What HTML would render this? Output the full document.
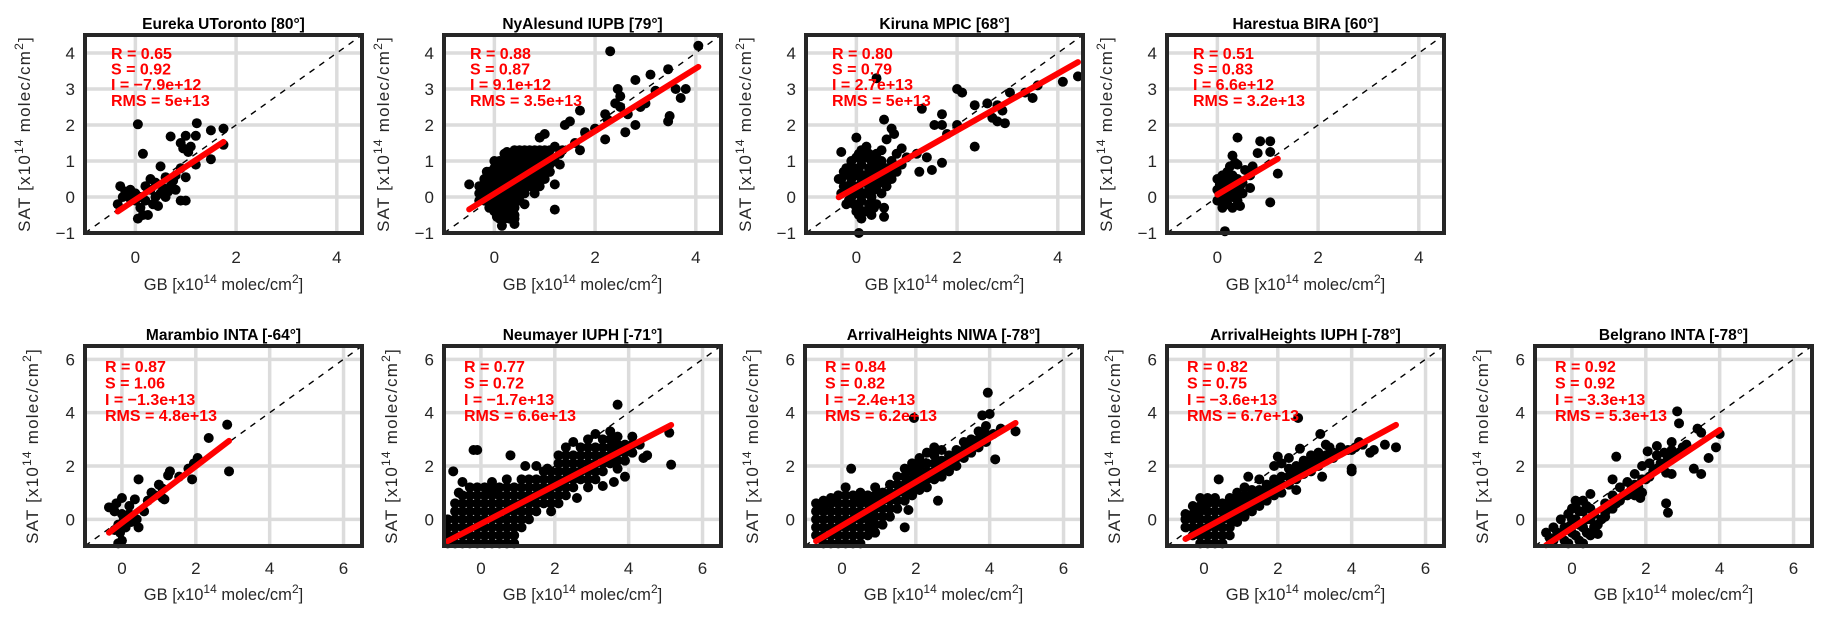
<!DOCTYPE html>
<html><head><meta charset="utf-8"><style>
html,body{margin:0;padding:0;background:#fff;}
svg{display:block;font-family:"Liberation Sans",sans-serif;}
</style></head><body>
<svg id="fig" width="1832" height="622" viewBox="0 0 1832 622" xmlns="http://www.w3.org/2000/svg"></svg>
<script>
// ---- data ----
const titles = ["Eureka UToronto [80°]","NyAlesund IUPB [79°]","Kiruna MPIC [68°]","Harestua BIRA [60°]","Marambio INTA [-64°]","Neumayer IUPH [-71°]","ArrivalHeights NIWA [-78°]","ArrivalHeights IUPH [-78°]","Belgrano INTA [-78°]"];
const statR = ["0.65","0.88","0.80","0.51","0.87","0.77","0.84","0.82","0.92"];
const statS = [0.92,0.87,0.79,0.83,1.06,0.72,0.82,0.75,0.92];
const statI = [-7.9e12,9.1e12,2.7e13,6.6e12,-1.3e13,-1.7e13,-2.4e13,-3.6e13,-3.3e13];
const statILabel = ["-7.9e+12","9.1e+12","2.7e+13","6.6e+12","-1.3e+13","-1.7e+13","-2.4e+13","-3.6e+13","-3.3e+13"];
const statRMS = ["5e+13","3.5e+13","5e+13","3.2e+13","4.8e+13","6.6e+13","6.2e+13","6.7e+13","5.3e+13"];
const topXTicks = [0,2,4];
const topYTicks = [-1,0,1,2,3,4];
const botXTicks = [0,2,4,6];
const botYTicks = [0,2,4,6];

const ptsEureka = [[0.05,2.02],[1.22,2.05],[1.5,1.85],[1.75,1.9],[0.15,1.2],[0.7,1.68],[1.0,1.7],[1.2,1.7],[0.9,1.5],[0.95,1.35],[1.05,1.25],[1.1,1.4],[1.75,1.45],[1.5,1.05],[1.2,0.9],[0.5,0.85],[0.9,0.8],[1.0,0.55],[0.8,0.6],[0.6,0.55],[0.3,0.5],[0.4,0.4],[0.2,0.3],[-0.3,0.3],[-0.2,0.15],[-0.1,0.2],[0.0,0.1],[0.1,0.0],[0.2,-0.1],[0.3,0.2],[0.5,0.1],[0.6,0.0],[0.7,0.3],[0.8,0.2],[0.9,-0.1],[1.0,-0.1],[0.1,-0.3],[0.15,-0.5],[0.25,-0.5],[0.05,-0.6],[0.35,-0.2],[-0.35,-0.2],[-0.25,0.0],[0.45,-0.25],[0.55,0.25],[0.65,0.15],[0.0,-0.1],[-0.1,-0.05],[0.4,0.0],[0.75,0.45]];
const ptsNyAlesund = [[2.3,4.05],[4.05,4.2],[3.45,3.55],[3.1,3.4],[2.8,3.25],[2.45,3.0],[2.5,2.8],[3.8,3.0],[3.6,3.0],[3.7,2.75],[3.45,2.1],[3.48,2.25],[3.2,2.95],[3.0,2.6],[2.2,2.3],[2.25,2.15],[2.5,2.5],[2.65,2.3],[2.9,2.5],[2.4,2.6],[2.6,1.8],[2.8,2.0],[2.2,1.6],[2.0,1.9],[1.7,2.4],[1.5,2.1],[1.4,2.0],[1.8,1.8],[1.6,1.5],[1.7,1.3],[1.0,1.75],[0.9,1.65],[1.3,1.2],[1.2,1.0],[1.1,0.7],[1.2,0.35],[1.2,-0.35],[0.6,-0.2],[0.4,-0.6],[0.15,-0.8],[0.4,-0.75],[-0.5,0.35],
[-0.3,0.1],[-0.2,0.3],[-0.2,-0.1],[-0.1,0.5],[-0.1,0.1],[-0.1,-0.3],[0,0.8],[0,0.4],[0,0],[0,-0.4],[0.1,1.0],[0.1,0.6],[0.1,0.2],[0.1,-0.2],[0.1,-0.6],[0.2,1.2],[0.2,0.8],[0.2,0.4],[0.2,0],[0.2,-0.4],[0.3,1.0],[0.3,0.6],[0.3,0.2],[0.3,-0.2],[0.3,-0.6],[0.4,1.3],[0.4,0.9],[0.4,0.5],[0.4,0.1],[0.4,-0.3],[0.5,1.1],[0.5,0.7],[0.5,0.3],[0.5,-0.1],[0.6,1.3],[0.6,0.9],[0.6,0.5],[0.6,0.1],[0.7,1.1],[0.7,0.7],[0.7,0.3],[0.8,1.3],[0.8,0.9],[0.8,0.5],[0.8,0.1],[0.9,1.1],[0.9,0.7],[0.9,0.3],[1.0,1.3],[1.0,0.9],[1.0,0.5],[1.1,1.1],[1.1,0.7],[1.2,1.4],[1.3,0.9],[1.35,1.3],[0.05,-0.55],[-0.15,0.7],[0.25,1.25]];
const ptsNyAlesundFill = [[-0.3,0.3],[-0.3,-0.1],[-0.2,0.1],[-0.2,0.5],[-0.1,0.3],[-0.1,-0.1],[-0.1,0.7],[0,0.6],[0,0.2],[0,-0.2],[0,1.0],[0.1,0.8],[0.1,0.4],[0.1,0],[0.1,-0.4],[0.2,1.0],[0.2,0.6],[0.2,0.2],[0.2,-0.2],[0.2,-0.6],[0.3,0.8],[0.3,0.4],[0.3,0],[0.3,-0.4],[0.3,1.2],[0.4,1.1],[0.4,0.7],[0.4,0.3],[0.4,-0.1],[0.4,-0.5],[0.5,0.9],[0.5,0.5],[0.5,0.1],[0.5,1.3],[0.6,1.1],[0.6,0.7],[0.6,0.3],[0.7,0.9],[0.7,0.5],[0.7,1.3],[0.8,1.1],[0.8,0.7],[0.8,0.3],[0.9,0.9],[0.9,0.5],[0.9,1.3],[1.0,1.1],[1.0,0.7],[1.1,0.9],[1.1,1.3]];
const ptsKiruna = [[0.4,3.3],[1.3,2.45],[2.0,3.0],[2.1,2.9],[2.35,2.55],[2.6,2.6],[2.8,2.55],[2.8,2.1],[2.9,2.4],[2.95,2.05],[2.7,2.2],[3.05,2.9],[3.35,2.9],[3.5,2.75],[3.6,3.1],[4.1,3.2],[4.4,3.35],[2.35,1.4],[1.7,0.95],[1.5,0.75],[1.25,0.7],[1.4,1.1],[1.7,2.0],[1.7,2.3],[1.55,2.0],[1.8,1.75],[2.0,2.0],[0.55,2.15],[0.7,1.9],[0.75,1.75],[0.9,1.35],[1.0,1.1],[1.2,1.2],[0.55,-0.3],[0.55,-0.55],[0.05,-1.0],[-0.35,0.5],[-0.3,1.25],[0.0,1.65],[0.2,1.4],[0.5,1.3],[0.6,1.6],
[-0.3,0.1],[-0.3,0.5],[-0.2,-0.2],[-0.2,0.3],[-0.2,0.8],[-0.1,0],[-0.1,0.5],[-0.1,1.0],[0,-0.4],[0,0.1],[0,0.6],[0,1.1],[0.1,-0.6],[0.1,-0.1],[0.1,0.4],[0.1,0.9],[0.1,1.3],[0.2,-0.4],[0.2,0.1],[0.2,0.6],[0.2,1.1],[0.3,-0.5],[0.3,0],[0.3,0.5],[0.3,1.0],[0.4,-0.2],[0.4,0.3],[0.4,0.8],[0.4,1.2],[0.5,0.1],[0.5,0.6],[0.5,1.0],[0.6,0.3],[0.6,0.8],[0.7,0.5],[0.7,1.0],[0.8,0.7],[0.8,1.2],[0.9,0.9]];
const ptsKirunaFill = [[-0.25,0.3],[-0.25,0.7],[-0.15,0.2],[-0.15,-0.1],[-0.15,0.6],[-0.05,0.3],[-0.05,0.8],[-0.05,-0.2],[0.05,-0.2],[0.05,0.3],[0.05,0.8],[0.05,1.2],[0.05,-0.5],[0.15,0.1],[0.15,0.6],[0.15,1.1],[0.15,-0.4],[0.25,-0.2],[0.25,0.3],[0.25,0.8],[0.25,1.2],[0.35,0.2],[0.35,0.6],[0.35,1.0],[0.35,-0.3],[0.45,0.4],[0.45,0.9],[0.55,0.4],[0.55,0.8],[0.65,0.6],[0.75,0.8]];
const ptsHarestua = [[0.4,1.65],[0.85,1.55],[1.05,1.55],[0.8,1.22],[1.05,1.25],[0.3,1.15],[1.2,0.65],[1.05,-0.15],[0.45,-0.25],[0.15,-0.95],[0.7,0.85],[0.55,0.75],[0.65,0.6],[0.65,0.25],[0.4,0.9],[0.35,0.95],[0.25,0.85],
[0,-0.1],[0,0.2],[0,0.5],[0.1,-0.3],[0.1,0],[0.1,0.3],[0.1,0.6],[0.2,-0.2],[0.2,0.1],[0.2,0.4],[0.2,0.7],[0.3,-0.3],[0.3,0],[0.3,0.3],[0.3,0.6],[0.4,-0.1],[0.4,0.2],[0.4,0.5],[0.5,0.1],[0.5,0.4]];
const ptsHarestuaFill = [[0.05,0.0],[0.05,0.35],[0.15,-0.15],[0.15,0.15],[0.15,0.45],[0.25,0],[0.25,0.25],[0.25,0.55],[0.35,0.1],[0.35,0.4],[0.45,0.3]];
const ptsMarambio = [[2.85,3.55],[2.35,3.05],[2.9,1.8],[1.95,2.1],[2.05,2.3],[1.8,1.9],[1.9,1.5],[1.55,1.6],[1.3,1.8],[1.25,1.65],[1.0,1.3],[1.1,1.15],[0.9,0.9],[1.1,0.8],[1.15,0.75],[0.45,1.5],[0.35,0.75],[0.6,0.3],[0.4,0.0],[0.45,-0.3],[0.2,0.2],[0.0,0.8],[-0.15,0.6],[-0.35,0.45],[-0.2,0.3],[0.0,0.2],[0.05,0.0],[-0.1,-0.2],[-0.05,-0.5],[0.0,-0.8],[-0.1,-0.9],[0.1,-0.3],[0.2,0.5],[0.7,0.7],[0.8,1.0],[-0.2,-0.4],[0.25,-0.1]];
const ptsNeumayer = [[3.7,4.3],[5.15,2.05],[5.1,3.25],[4.4,2.3],[3.9,1.6],[3.6,1.4],[2.6,0.8],[3.3,1.25],[-0.2,2.6],[-0.1,2.6],[0.8,2.4],[-0.75,1.8],[1.2,2.0],[1.5,2.0],[1.8,1.9],[-0.5,1.4],[-0.6,1.0],
[-0.9,-0.9],[-0.9,-0.3],[-0.7,-0.6],[-0.7,0],[-0.7,0.6],[-0.5,-0.9],[-0.5,-0.3],[-0.5,0.3],[-0.5,0.9],[-0.3,-0.6],[-0.3,0],[-0.3,0.6],[-0.3,1.2],[-0.1,-0.9],[-0.1,-0.3],[-0.1,0.3],[-0.1,0.9],[0.1,-0.6],[0.1,0],[0.1,0.6],[0.1,1.2],[0.3,-0.9],[0.3,-0.3],[0.3,0.3],[0.3,0.9],[0.3,1.4],[0.5,-0.6],[0.5,0],[0.5,0.6],[0.5,1.2],[0.7,-0.9],[0.7,-0.3],[0.7,0.3],[0.7,0.9],[0.7,1.5],[0.9,-0.6],[0.9,0],[0.9,0.6],[0.9,1.2],[1.1,-0.3],[1.1,0.3],[1.1,0.9],[1.1,1.5],[1.3,0],[1.3,0.6],[1.3,1.2],[1.5,0.3],[1.5,0.9],[1.5,1.5],[1.7,0.6],[1.7,1.2],[1.7,1.8],[1.9,0.3],[1.9,0.9],[1.9,1.5],[2.1,0.6],[2.1,1.2],[2.1,1.8],[2.1,2.4],[2.3,0.9],[2.3,1.5],[2.3,2.1],[2.3,2.7],[2.5,1.2],[2.5,1.8],[2.5,2.4],[2.5,2.9],[2.7,1.5],[2.7,2.1],[2.7,2.7],[2.9,1.2],[2.9,1.8],[2.9,2.4],[2.9,3.0],[3.1,1.5],[3.1,2.1],[3.1,2.7],[3.1,3.2],[3.3,1.8],[3.3,2.4],[3.3,3.0],[3.5,2.1],[3.5,2.7],[3.5,3.3],[3.7,1.9],[3.7,2.5],[3.7,3.1],[3.9,2.2],[3.9,2.8],[4.1,2.5],[4.1,3.1],[4.3,2.8],[4.5,2.4]];
const ptsNeumayerFill = [[-0.9,-0.6],[-0.9,0],[-0.7,-0.9],[-0.7,-0.3],[-0.7,0.3],[-0.5,-0.6],[-0.5,0],[-0.5,0.6],[-0.3,-0.9],[-0.3,-0.3],[-0.3,0.3],[-0.3,0.9],[-0.1,-0.6],[-0.1,0],[-0.1,0.6],[-0.1,1.2],[0.1,-0.9],[0.1,-0.3],[0.1,0.3],[0.1,0.9],[0.3,-0.6],[0.3,0],[0.3,0.6],[0.3,1.1],[0.5,-0.9],[0.5,-0.3],[0.5,0.3],[0.5,0.9],[0.7,-0.6],[0.7,0],[0.7,0.6],[0.7,1.2],[0.9,-0.9],[0.9,-0.3],[0.9,0.3],[0.9,0.9],[1.1,0],[1.1,0.6],[1.1,1.2],[1.3,0.3],[1.3,0.9],[1.3,1.5],[1.5,0.6],[1.5,1.2],[1.7,0.9],[1.7,1.5],[1.9,0.6],[1.9,1.2],[1.9,1.8],[2.1,0.9],[2.1,1.5],[2.1,2.1],[2.3,1.2],[2.3,1.8],[2.3,2.4],[2.5,1.5],[2.5,2.1],[2.7,1.8],[2.7,2.4],[2.9,1.5],[2.9,2.1],[2.9,2.7],[3.1,1.8],[3.1,2.4],[3.3,2.1],[3.3,2.7],[3.5,2.4],[3.5,3.0],[3.7,2.2],[3.7,2.8],[3.9,2.5],[4.1,2.8]];
const ptsNIWA = [[3.95,4.75],[1.95,3.8],[3.8,3.9],[4.15,2.25],[4.0,3.95],[4.7,3.3],[0.25,1.9],[2.6,0.7],[1.8,0.35],[1.7,-0.3],
[-0.7,-0.6],[-0.7,0],[-0.7,0.6],[-0.5,-0.9],[-0.5,-0.3],[-0.5,0.3],[-0.5,0.7],[-0.3,-0.6],[-0.3,0],[-0.3,0.6],[-0.1,-0.9],[-0.1,-0.3],[-0.1,0.3],[-0.1,0.9],[0.1,-0.6],[0.1,0],[0.1,0.6],[0.1,1.2],[0.3,-0.9],[0.3,-0.3],[0.3,0.3],[0.3,0.9],[0.5,-0.6],[0.5,0],[0.5,0.6],[0.5,1.0],[0.7,-0.3],[0.7,0.3],[0.7,0.9],[0.9,-0.5],[0.9,0.1],[0.9,0.7],[0.9,1.2],[1.1,-0.2],[1.1,0.4],[1.1,1.0],[1.3,0.1],[1.3,0.7],[1.3,1.3],[1.5,0.4],[1.5,1.0],[1.5,1.6],[1.7,0.7],[1.7,1.3],[1.7,1.9],[1.9,0.9],[1.9,1.5],[1.9,2.1],[2.1,1.1],[2.1,1.7],[2.1,2.3],[2.3,1.2],[2.3,1.8],[2.3,2.5],[2.5,1.5],[2.5,2.1],[2.5,2.7],[2.7,1.6],[2.7,2.2],[2.7,2.6],[2.9,1.8],[2.9,2.4],[3.1,2.0],[3.1,2.6],[3.3,2.3],[3.3,2.9],[3.5,2.5],[3.5,3.0],[3.7,2.7],[3.7,3.3],[3.9,2.9],[3.9,3.5],[4.1,3.2],[4.3,3.4]];
const ptsNIWAFill = [[-0.7,-0.3],[-0.7,0.3],[-0.5,-0.6],[-0.5,0],[-0.5,0.5],[-0.3,-0.9],[-0.3,-0.3],[-0.3,0.3],[-0.3,0.8],[-0.1,-0.6],[-0.1,0],[-0.1,0.6],[0.1,-0.9],[0.1,-0.3],[0.1,0.3],[0.1,0.9],[0.3,-0.6],[0.3,0],[0.3,0.6],[0.5,-0.9],[0.5,-0.3],[0.5,0.3],[0.5,0.8],[0.7,-0.6],[0.7,0],[0.7,0.6],[0.9,-0.2],[0.9,0.4],[0.9,0.9],[1.1,0.1],[1.1,0.7],[1.3,0.4],[1.3,1.0],[1.5,0.7],[1.5,1.3],[1.7,1.0],[1.7,1.6],[1.9,1.2],[1.9,1.8],[2.1,1.4],[2.1,2.0],[2.3,1.5],[2.3,2.1],[2.5,1.8],[2.5,2.4],[2.7,1.9],[2.9,2.1],[3.1,2.3],[3.3,2.6],[3.5,2.8],[3.7,3.0],[3.9,3.2]];
const ptsIUPH = [[2.55,3.8],[3.15,3.2],[2.6,2.65],[3.3,2.8],[3.4,2.7],[5.2,2.7],[4.9,2.8],[4.6,2.6],[4.0,1.9],[4.0,1.8],[3.2,1.6],[2.5,1.1],[1.6,0.8],[0.4,1.5],[1.2,1.6],[2.0,2.35],
[-0.5,-0.3],[-0.5,0.2],[-0.3,-0.6],[-0.3,0],[-0.3,0.5],[-0.1,-0.9],[-0.1,-0.3],[-0.1,0.3],[-0.1,0.8],[0.1,-0.6],[0.1,0],[0.1,0.6],[0.3,-0.9],[0.3,-0.3],[0.3,0.3],[0.3,0.8],[0.5,-0.6],[0.5,0],[0.5,0.6],[0.7,-0.3],[0.7,0.3],[0.7,0.8],[0.9,-0.1],[0.9,0.5],[0.9,1.0],[1.1,0.1],[1.1,0.7],[1.1,1.2],[1.3,0.3],[1.3,0.9],[1.5,0.5],[1.5,1.1],[1.5,1.5],[1.7,0.7],[1.7,1.3],[1.9,0.9],[1.9,1.5],[1.9,2.0],[2.1,1.0],[2.1,1.6],[2.1,2.1],[2.3,1.3],[2.3,1.9],[2.3,2.3],[2.5,1.5],[2.5,2.0],[2.7,1.7],[2.7,2.2],[2.9,1.8],[2.9,2.4],[3.1,2.0],[3.1,2.5],[3.3,2.2],[3.5,2.3],[3.7,2.5],[3.9,2.6],[4.1,2.7],[4.3,2.8],[4.5,2.5]];
const ptsIUPHFill = [[-0.5,0],[-0.3,-0.3],[-0.3,0.2],[-0.1,-0.6],[-0.1,0],[-0.1,0.5],[0.1,-0.9],[0.1,-0.3],[0.1,0.3],[0.1,0.8],[0.3,-0.6],[0.3,0],[0.3,0.6],[0.5,-0.9],[0.5,-0.3],[0.5,0.3],[0.7,-0.6],[0.7,0],[0.7,0.5],[0.9,0.2],[0.9,0.7],[1.1,0.4],[1.1,0.9],[1.3,0.6],[1.3,1.1],[1.5,0.8],[1.7,1.0],[1.9,1.2],[2.1,1.3],[2.3,1.6],[2.5,1.7],[2.7,1.9],[2.9,2.1],[3.1,2.2],[3.3,2.4],[3.5,2.5],[3.7,2.7],[4.0,2.6],[4.2,2.9]];
const ptsBelgrano = [[2.85,4.05],[2.9,3.6],[3.4,3.4],[3.5,3.25],[4.0,3.2],[3.9,2.7],[3.7,2.3],[3.3,1.9],[3.5,1.7],[2.55,0.6],[2.6,0.25],[1.2,2.35],[2.05,2.55],[2.3,2.75],[2.7,2.9],[2.55,1.75],[2.7,1.7],[1.9,1.0],[1.85,0.8],[1.1,1.5],[0.5,0.95],[0.1,0.7],[0.7,-0.55],[0.9,0.25],
[-0.7,-0.5],[-0.5,-0.8],[-0.5,-0.3],[-0.3,-0.6],[-0.3,0],[-0.1,-0.9],[-0.1,-0.3],[-0.1,0.2],[0.1,-0.6],[0.1,0],[0.1,0.5],[0.3,-0.9],[0.3,-0.3],[0.3,0.3],[0.3,0.7],[0.5,-0.6],[0.5,0],[0.5,0.4],[0.7,-0.2],[0.9,0.1],[0.9,0.6],[1.1,0.4],[1.1,0.9],[1.3,0.7],[1.3,1.2],[1.5,0.9],[1.5,1.4],[1.7,0.9],[1.7,1.3],[1.7,1.7],[1.9,1.5],[1.9,2.0],[2.1,1.6],[2.1,2.1],[2.3,1.9],[2.3,2.4],[2.5,2.1],[2.5,2.5],[2.7,2.3],[2.7,2.6],[2.9,2.5],[3.1,2.8]];
const ptsBelgranoFill = [[-0.6,-0.7],[-0.4,-0.5],[-0.2,-0.8],[-0.2,-0.3],[0,-0.5],[0,0],[0,0.4],[0.2,-0.8],[0.2,-0.2],[0.2,0.3],[0.4,-0.5],[0.4,0],[0.4,0.5],[0.6,-0.3],[0.6,0.2],[0.8,0],[1.0,0.4],[1.2,0.6],[1.4,0.9],[1.6,1.1],[1.8,1.2],[2.0,1.5],[2.2,1.8],[2.4,2.1],[2.6,2.3],[2.8,2.4],[3.0,2.7]];
const allPts = [ptsEureka, ptsNyAlesund.concat(ptsNyAlesundFill), ptsKiruna.concat(ptsKirunaFill), ptsHarestua.concat(ptsHarestuaFill), ptsMarambio, ptsNeumayer.concat(ptsNeumayerFill), ptsNIWA.concat(ptsNIWAFill), ptsIUPH.concat(ptsIUPHFill), ptsBelgrano.concat(ptsBelgranoFill)];

// ---- layout ----
const boxLefts = [85,444,806,1167,85,444,805,1167,1535];
const NS = "http://www.w3.org/2000/svg";
const svg = document.getElementById('fig');
function mk(tag, attrs, parent){ const e=document.createElementNS(NS,tag); for(const k in attrs) e.setAttribute(k,attrs[k]); (parent||svg).appendChild(e); return e; }
const slug = s => s.toLowerCase().replace(/[^a-z0-9]+/g,'-').replace(/^-|-$/g,'');
const SUP = 'GB [x10<tspan dy="-7" font-size="12">14</tspan><tspan dy="7"> molec/cm</tspan><tspan dy="-7" font-size="12">2</tspan><tspan dy="7">]</tspan>';

for(let p=0;p<9;p++){
  const top = p<4;
  const L = boxLefts[p], W = 277;
  const T = top?35:346, H = top?198:200;
  const lo=-1, hi = top?4.5:6.5;
  const sx = v => L + (v-lo)/(hi-lo)*W;
  const sy = v => T + H - (v-lo)/(hi-lo)*H;
  const xt = top?topXTicks:botXTicks, yt = top?topYTicks:botYTicks;
  const g = mk('g',{});
  
  
  xt.forEach(v=>{ const l=mk('line',{x1:sx(v),x2:sx(v),y1:T,y2:T+H,stroke:'#dcdcdc','stroke-width':3.5},g);
      });
  yt.forEach(v=>{ if(v===lo) return; const l=mk('line',{x1:L,x2:L+W,y1:sy(v),y2:sy(v),stroke:'#dcdcdc','stroke-width':3.5},g);
      });
  const pts = allPts[p];
  pts.forEach(d=>{ const c=mk('circle',{cx:sx(d[0]),cy:sy(d[1]),r:5,fill:'#000'},g);
      });
  const dl = mk('line',{x1:sx(lo),y1:sy(lo),x2:sx(hi),y2:sy(hi),stroke:'#000','stroke-width':1.4,'stroke-dasharray':'6,6'},g);
   
  let xmin=Infinity,xmax=-Infinity; pts.forEach(d=>{xmin=Math.min(xmin,d[0]);xmax=Math.max(xmax,d[0]);});
  const f = x => statS[p]*x + statI[p]/1e14;
  const fl = mk('line',{x1:sx(xmin),y1:sy(f(xmin)),x2:sx(xmax),y2:sy(f(xmax)),stroke:'#ff0000','stroke-width':6,'stroke-linecap':'round'},g);
   
  const fr = mk('rect',{x:L,y:T,width:W,height:H,fill:'none',stroke:'#262626','stroke-width':4},g);
   
  xt.forEach(v=>{ const t=mk('text',{x:sx(v),y:top?263:574,'text-anchor':'middle','font-size':17,fill:'#262626'},g); t.textContent=String(v);
      });
  yt.forEach(v=>{ const t=mk('text',{x:L-10,y:sy(v)+6,'text-anchor':'end','font-size':17,fill:'#262626'},g); t.textContent=String(v).replace('-','\u2212');
      });
  const ti = mk('text',{x:L+W/2,y:T-6,'text-anchor':'middle','font-size':15.5,'font-weight':'bold',fill:'#000'},g);
  ti.textContent = titles[p];
   
  const st = ["R = "+statR[p],"S = "+statS[p].toFixed(2),"I = "+statILabel[p].replace(/^-/,'\u2212'),"RMS = "+statRMS[p]];
  const tx = L+(top?26:20), ty0 = T+(top?24:26), dy = top?15.6:16.4;
  st.forEach((s,i)=>{ const t=mk('text',{x:tx,y:ty0+i*dy,'font-size':16,'font-weight':'bold',fill:'#ff0000'},g); t.textContent=s;
      });
  const xl = mk('text',{x:L+W/2,y:top?290:600,'text-anchor':'middle','font-size':16.5,fill:'#262626'},g);
   
  xl.innerHTML = SUP;
  const cx = L-(top?55:47), cy = T+H/2;
  const yl = mk('text',{x:cx,y:cy,'text-anchor':'middle','font-size':17,'letter-spacing':'1.2',fill:'#262626',transform:'rotate(-90 '+cx+' '+cy+')'},g);
   
  yl.innerHTML = SUP.replace('GB','SAT');
}
</script>
</body></html>
